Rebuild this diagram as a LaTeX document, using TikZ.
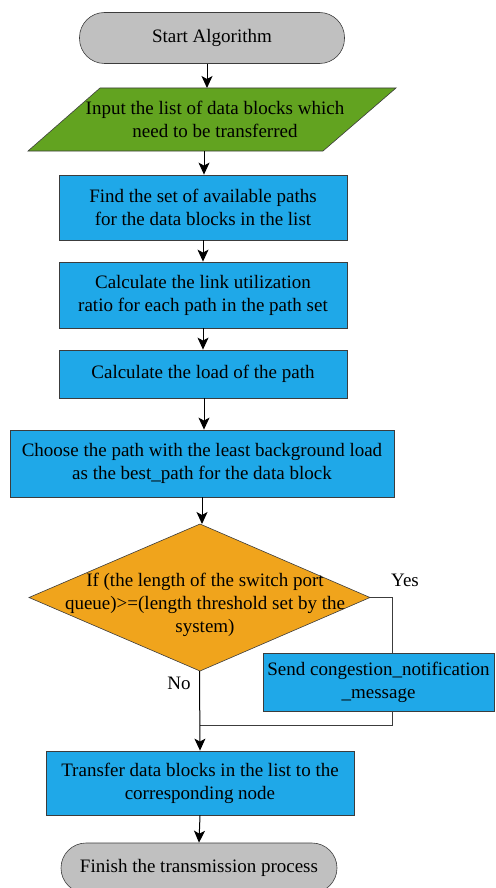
\documentclass[tikz,border=0pt]{standalone}
\usepackage{fontspec}
\setmainfont{Liberation Serif}
\usetikzlibrary{arrows.meta}
\definecolor{termgray}{RGB}{192,192,192}
\definecolor{iogreen}{RGB}{98,163,32}
\definecolor{procblue}{RGB}{31,168,232}
\definecolor{decorange}{RGB}{240,164,28}
\definecolor{edgegray}{RGB}{60,60,60}
\tikzset{
  txt/.style={font=\fontsize{19}{23}\selectfont, align=center, text=black, inner sep=0pt},
  terminal/.style={txt, draw=edgegray, fill=termgray, rounded corners=25pt, line width=0.6pt},
  procbox/.style={txt, draw=edgegray, fill=procblue, line width=0.8pt},
  anchorbox/.style={inner sep=0pt, outer sep=0pt},
  flow/.style={draw=black, line width=1pt, -{Stealth[length=12pt,width=11pt,inset=3pt]}},
  link/.style={draw=edgegray, line width=1pt},
}
\begin{document}
\begin{tikzpicture}[x=1pt,y=-1pt]
\useasboundingbox (0,0) rectangle (495,888);

% start terminal
\node[terminal, minimum width=265pt, minimum height=51pt] (start) at (212,38) {Start Algorithm};

% input parallelogram
\fill[iogreen, draw=edgegray, line width=0.6pt] (100,88) -- (396,88) -- (323,151) -- (28,151) -- cycle;
\node[anchorbox, minimum width=150pt, minimum height=63pt] (input) at (207,119.5) {};
\node[txt] at (215,119.5) {Input the list of data blocks which\\need to be transferred};

% process boxes
\node[procbox, minimum width=288pt, minimum height=65pt] (paths) at (203,207.5) {Find the set of available paths\\for the data blocks in the list};
\node[procbox, minimum width=288pt, minimum height=66pt] (ratio) at (203,295) {Calculate the link utilization\\ratio for each path in the path set};
\node[procbox, minimum width=288pt, minimum height=48pt] (load) at (203,374) {Calculate the load of the path};
\node[procbox, minimum width=384pt, minimum height=67pt] (choose) at (202,463.5) {Choose the path with the least background load\\as the best\_path for the data block};

% decision
\fill[decorange, draw=edgegray, line width=0.6pt] (200,524) -- (370,597.5) -- (200,671) -- (29,597.5) -- cycle;
\node[anchorbox, minimum width=341pt, minimum height=147pt] (cond) at (199.5,597.5) {};
\node[txt] at (205,605) {If (the length of the switch port\\queue)>=(length threshold set by the\\system)};

% notification
\node[procbox, minimum width=231pt, minimum height=58pt] (notify) at (378.5,682) {Send congestion\_notification\\\_message};

% transfer and finish
\node[procbox, minimum width=308pt, minimum height=64pt] (transfer) at (200,783) {Transfer data blocks in the list to the\\corresponding node};
\node[terminal, minimum width=276pt, minimum height=50pt] (finish) at (199,868) {Finish the transmission process};

\coordinate (merge) at (200,725);

% connectors
\draw[flow] (start.south -| 207,0) -- (input.north);
\draw[flow] (input.south -| 204,0) -- (paths.north -| 204,0);
\draw[flow] (paths.south) -- (ratio.north);
\draw[flow] (ratio.south) -- (load.north);
\draw[flow] (load.south -| 204,0) -- (choose.north -| 204,0);
\draw[flow] (choose.south -| 202,0) -- (cond.north -| 202,0);
\draw[link] (cond.east) -| (notify.north -| 392,0);
\draw[link] (notify.south -| 392,0) |- (merge);
\draw[flow] (cond.south) -- (transfer.north);
\draw[flow] (transfer.south) -- (finish.north);

% branch labels
\node[txt, anchor=center] (yes) at (405,580) {Yes};
\node[txt, anchor=center] (no) at (179,683) {No};
\end{tikzpicture}
\end{document}
